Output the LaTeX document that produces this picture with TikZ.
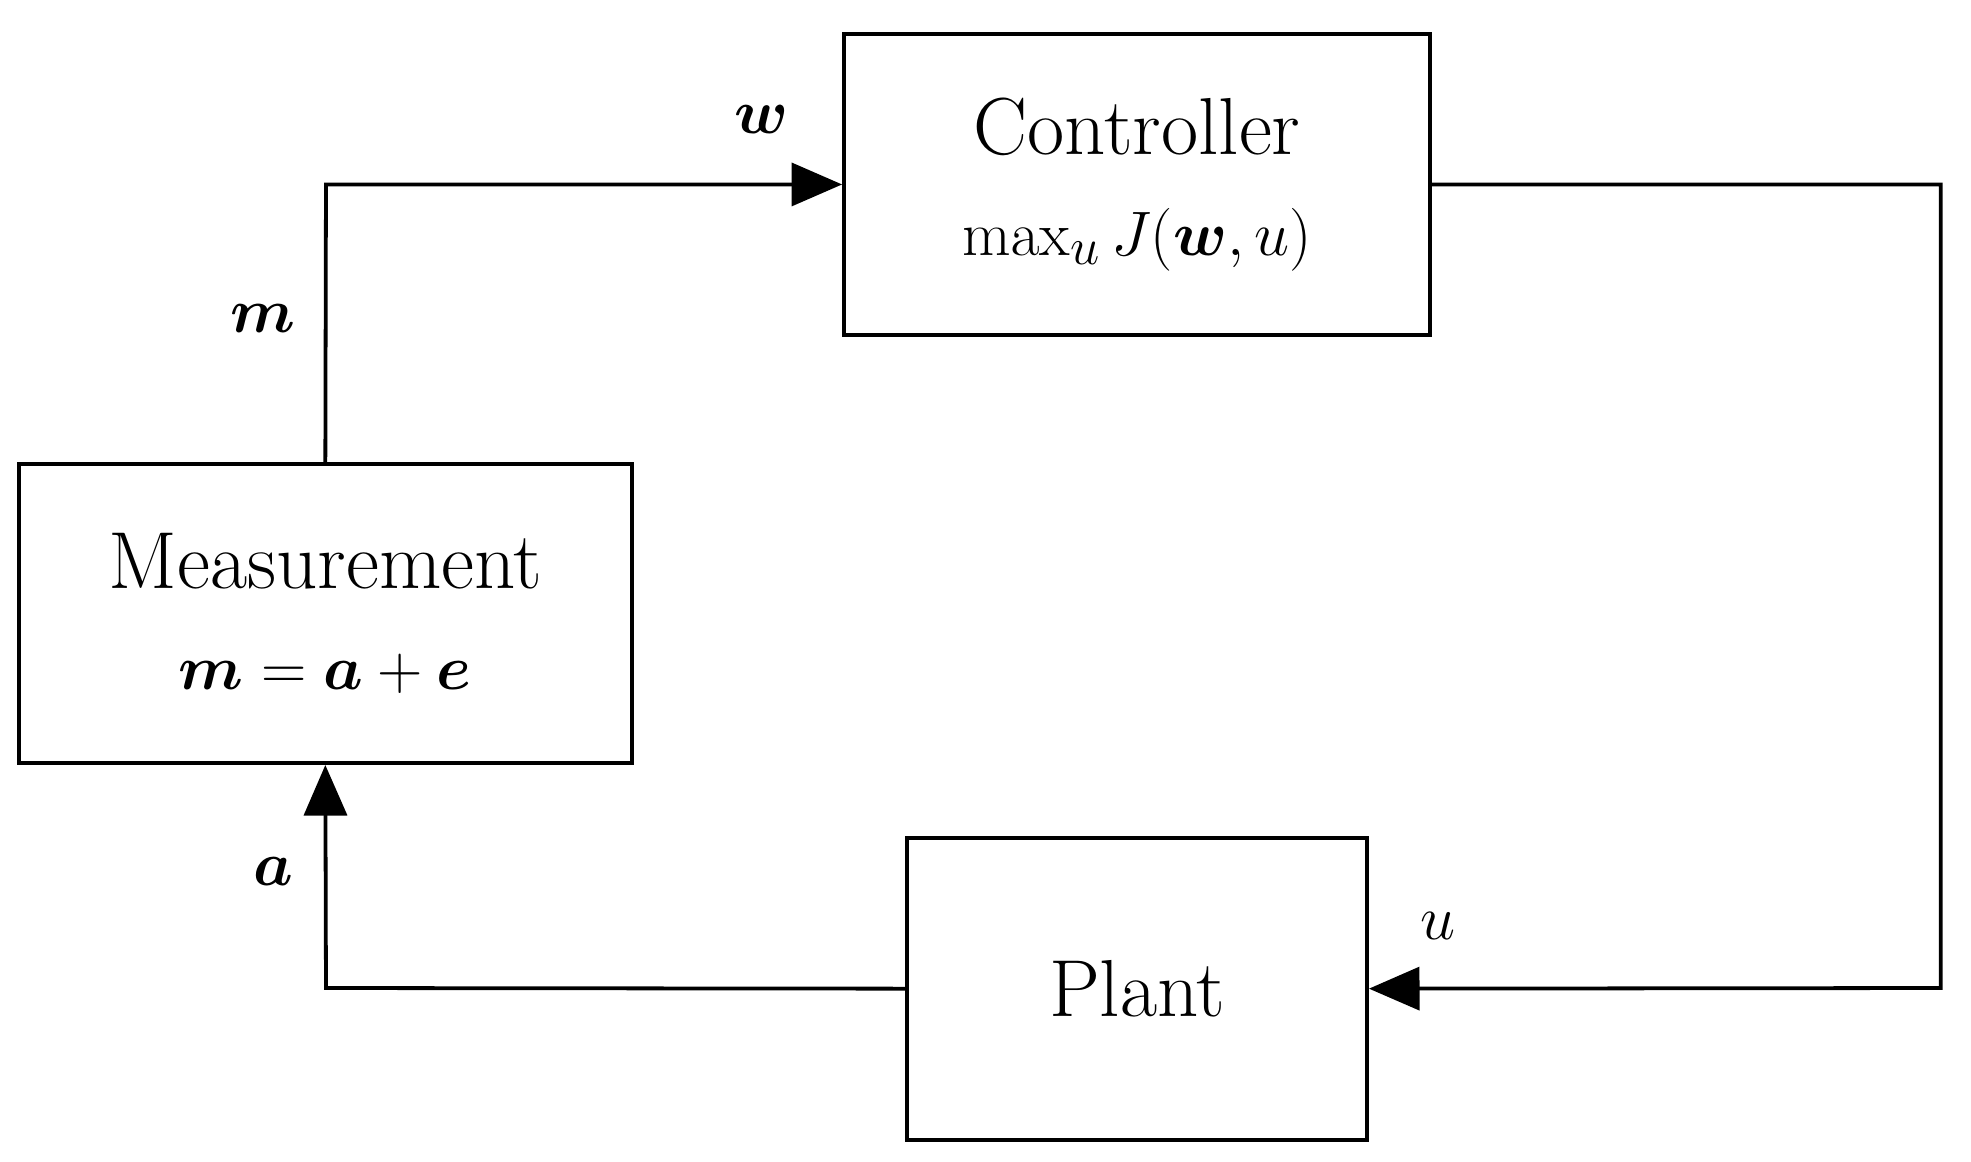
\documentclass[tikz,border=0pt]{standalone}
\usepackage{amsmath,bm}
\usetikzlibrary{arrows.meta}
\begin{document}
\begin{tikzpicture}[x=0.5pt,y=-0.5pt,
  blk/.style={draw,line width=1.5pt,minimum width=#1},
  ln/.style={line width=1.5pt},
  arr/.style={ln,-{Triangle[length=20pt,width=17pt]}},
  lbl/.style={font=\fontsize{32}{38}\selectfont},
  every node/.style={font=\fontsize{32}{40}\selectfont,align=center}]
\useasboundingbox (0,0) rectangle (1560,919);
\node[draw,line width=1.5pt,minimum width=232pt,minimum height=119pt] (ctrl) at (900,146) {Controller\\$\max_u J(\bm{w},u)$};
\node[draw,line width=1.5pt,minimum width=242.5pt,minimum height=118.5pt] (meas) at (257.5,485.5) {Measurement\\$\bm{m}=\bm{a}+\bm{e}$};
\node[draw,line width=1.5pt,minimum width=182pt,minimum height=119.5pt] (plant) at (900,782.5) {Plant};
\coordinate (c1) at (258,146);
\coordinate (c2) at (1536,146);
\coordinate (c3) at (1536,782);
\coordinate (c4) at (258,782);
\draw[arr] (meas.north) -- (c1) -- (ctrl.west);
\draw[arr] (ctrl.east) -- (c2) -- (c3) -- (plant.east);
\draw[arr] (plant.west) -- (c4) -- (meas.south);
\node (lw) at (603,95) {$\bm{w}$};
\node (lm) at (208,252) {$\bm{m}$};
\node (la) at (216,690) {$\bm{a}$};
\node (lu) at (1138,733) {$u$};
\end{tikzpicture}
\end{document}
